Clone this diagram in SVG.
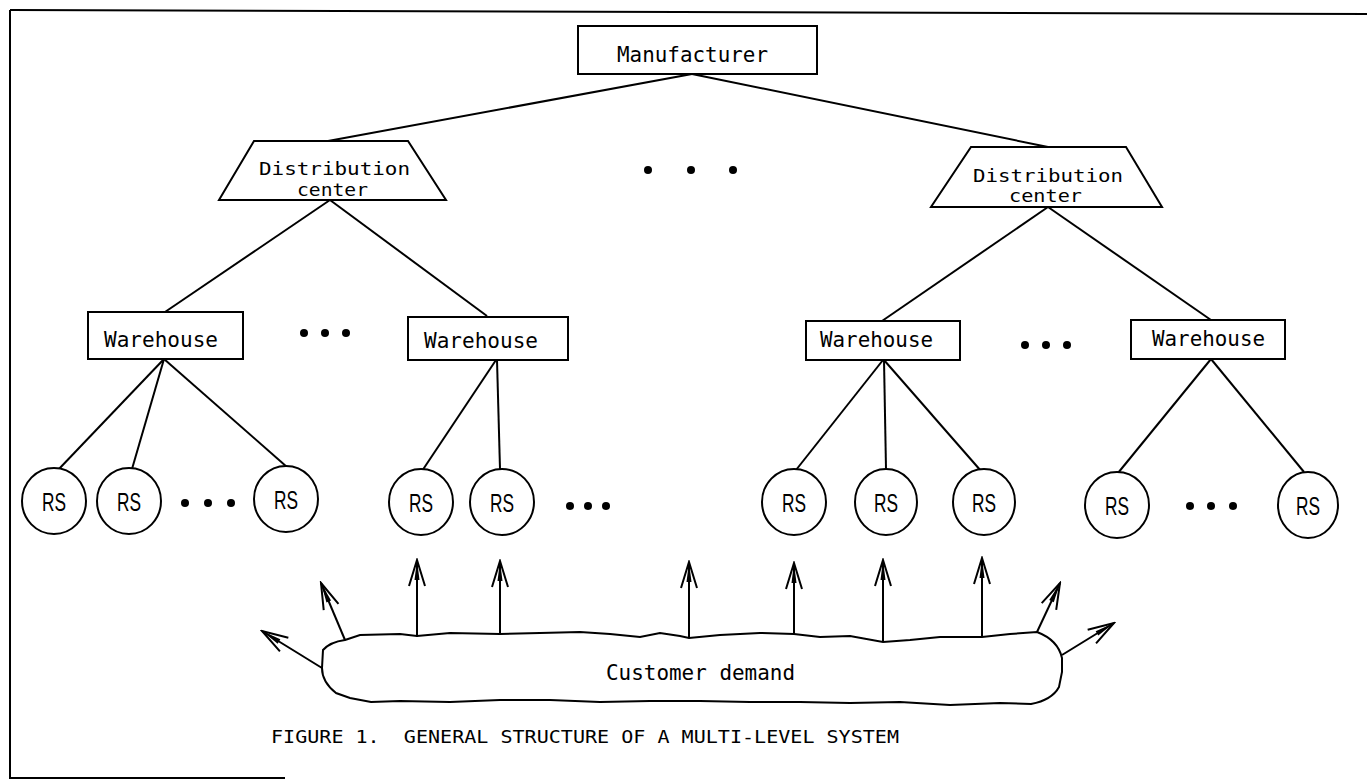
<svg xmlns="http://www.w3.org/2000/svg" width="1367" height="782" viewBox="0 0 1367 782">
<style>
.box{fill:#fff;stroke:#000;stroke-width:2}
.ln{fill:none;stroke:#000;stroke-width:2}
.t{font-family:"DejaVu Sans Mono","Liberation Mono",monospace;font-size:21px;fill:#000}
.dc{font-family:"DejaVu Sans Mono","Liberation Mono",monospace;font-size:18px;fill:#000}
.cap{font-family:"DejaVu Sans Mono","Liberation Mono",monospace;font-size:17px;fill:#000}
.rs{font-family:"Liberation Sans",Arial,sans-serif;font-size:25px;fill:#000;text-anchor:middle}
.dot{fill:#000}
.arr{fill:none;stroke:#000;stroke-width:2;marker-end:url(#ah)}
</style>
<defs>
<marker id="ah" markerWidth="30" markerHeight="20" refX="28" refY="10" orient="auto" markerUnits="userSpaceOnUse">
<path d="M2,2 L28,10 L2,18" fill="none" stroke="#000" stroke-width="2"/>
<path d="M8,7.5 L28,10 L8,12.5 Z" fill="#000"/>
</marker>
</defs>
<rect width="1367" height="782" fill="#fff"/>
<g id="frame" class="ln">
<path d="M10,10 L1367,14"/>
<path d="M10,10 L10,778 L285,778"/>
</g>
<g id="connectors" class="ln">
<path d="M692,74 L328,141"/>
<path d="M692,74 L1048,147"/>
<path d="M330,200 L165,312"/>
<path d="M330,200 L487,316"/>
<path d="M1048,207 L882,321"/>
<path d="M1048,207 L1211,320"/>
<path d="M164,359 L58,470"/>
<path d="M164,359 L132,469"/>
<path d="M164,359 L287,467"/>
<path d="M496,360 L422,471"/>
<path d="M497,360 L500,469"/>
<path d="M883,360 L796,470"/>
<path d="M884,360 L886,469"/>
<path d="M884,360 L981,471"/>
<path d="M1211,359 L1118,473"/>
<path d="M1211,359 L1304,472"/>
</g>
<g id="manufacturer">
<rect class="box" x="578" y="26" width="239" height="48"/>
<text class="t" x="617" y="62" textLength="151" lengthAdjust="spacingAndGlyphs">Manufacturer</text>
</g>
<g id="dc-left">
<path class="box" d="M254,141 L408,141 L446,200 L219,200 Z"/>
<text class="dc" x="259" y="175" textLength="151" lengthAdjust="spacingAndGlyphs">Distribution</text>
<text class="dc" x="297" y="196" textLength="71" lengthAdjust="spacingAndGlyphs">center</text>
</g>
<g id="dc-right">
<path class="box" d="M971,147 L1126,147 L1162,207 L931,207 Z"/>
<text class="dc" x="973" y="182" textLength="150" lengthAdjust="spacingAndGlyphs">Distribution</text>
<text class="dc" x="1009" y="202" textLength="73" lengthAdjust="spacingAndGlyphs">center</text>
</g>
<g id="warehouse-1">
<rect class="box" x="88" y="312" width="155" height="47"/>
<text class="t" x="104" y="347" textLength="114" lengthAdjust="spacingAndGlyphs">Warehouse</text>
</g>
<g id="warehouse-2">
<rect class="box" x="408" y="317" width="160" height="43"/>
<text class="t" x="424" y="348" textLength="114" lengthAdjust="spacingAndGlyphs">Warehouse</text>
</g>
<g id="warehouse-3">
<rect class="box" x="806" y="321" width="154" height="39"/>
<text class="t" x="820" y="347" textLength="113" lengthAdjust="spacingAndGlyphs">Warehouse</text>
</g>
<g id="warehouse-4">
<rect class="box" x="1131" y="320" width="154" height="39"/>
<text class="t" x="1152" y="346" textLength="113" lengthAdjust="spacingAndGlyphs">Warehouse</text>
</g>
<g id="rs-1"><ellipse class="box" cx="54" cy="501" rx="32" ry="33"/><text class="rs" x="54" y="511" textLength="24" lengthAdjust="spacingAndGlyphs">RS</text></g>
<g id="rs-2"><ellipse class="box" cx="129" cy="501" rx="32" ry="33"/><text class="rs" x="129" y="511" textLength="24" lengthAdjust="spacingAndGlyphs">RS</text></g>
<g id="rs-3"><ellipse class="box" cx="286" cy="499" rx="32" ry="33"/><text class="rs" x="286" y="509" textLength="24" lengthAdjust="spacingAndGlyphs">RS</text></g>
<g id="rs-4"><ellipse class="box" cx="421" cy="502" rx="32" ry="33"/><text class="rs" x="421" y="512" textLength="24" lengthAdjust="spacingAndGlyphs">RS</text></g>
<g id="rs-5"><ellipse class="box" cx="502" cy="502" rx="32" ry="33"/><text class="rs" x="502" y="512" textLength="24" lengthAdjust="spacingAndGlyphs">RS</text></g>
<g id="rs-6"><ellipse class="box" cx="794" cy="502" rx="32" ry="33"/><text class="rs" x="794" y="512" textLength="24" lengthAdjust="spacingAndGlyphs">RS</text></g>
<g id="rs-7"><ellipse class="box" cx="886" cy="502" rx="31" ry="33"/><text class="rs" x="886" y="512" textLength="24" lengthAdjust="spacingAndGlyphs">RS</text></g>
<g id="rs-8"><ellipse class="box" cx="984" cy="502" rx="31" ry="33"/><text class="rs" x="984" y="512" textLength="24" lengthAdjust="spacingAndGlyphs">RS</text></g>
<g id="rs-9"><ellipse class="box" cx="1117" cy="505" rx="32" ry="33"/><text class="rs" x="1117" y="515" textLength="24" lengthAdjust="spacingAndGlyphs">RS</text></g>
<g id="rs-10"><ellipse class="box" cx="1308" cy="505" rx="30" ry="33"/><text class="rs" x="1308" y="515" textLength="24" lengthAdjust="spacingAndGlyphs">RS</text></g>
<g id="ellipses" class="dot">
<circle cx="648" cy="170" r="4"/><circle cx="691" cy="170" r="4"/><circle cx="733" cy="170" r="4"/>
<circle cx="304" cy="333" r="4"/><circle cx="325" cy="333" r="4"/><circle cx="346" cy="333" r="4"/>
<circle cx="1025" cy="345" r="4"/><circle cx="1046" cy="345" r="4"/><circle cx="1067" cy="345" r="4"/>
<circle cx="185" cy="503" r="4"/><circle cx="208" cy="503" r="4"/><circle cx="231" cy="503" r="4"/>
<circle cx="570" cy="506" r="4"/><circle cx="588" cy="506" r="4"/><circle cx="606" cy="506" r="4"/>
<circle cx="1190" cy="506" r="4"/><circle cx="1211" cy="506" r="4"/><circle cx="1233" cy="506" r="4"/>
</g>
<g id="customer-demand">
<path class="ln" d="M345,640 L360,635 L400,634 L417,636 L450,633 L500,634 L540,633 L580,632 L610,634 L640,637 L660,633 L680,636 L689,638 L720,635 L760,633 L794,634 L820,637 L850,636 L883,642 L910,640 L940,637 L982,637 L1010,634 L1037,632 Q1058,640 1062,658 L1062,672 L1059,687 Q1052,700 1031,704 L1000,703 L950,705 L900,702 L850,703 L800,702 L750,702 L700,701 L650,701 L600,702 L550,700 L500,700 L450,702 L400,701 L371,702 L350,698 L336,693 Q322,682 322,668 L323,650 Q330,642 345,640 Z"/>
<text class="t" x="606" y="680" textLength="189" lengthAdjust="spacingAndGlyphs">Customer demand</text>
</g>
<g id="demand-arrows">
<path class="arr" d="M417,637 L417,560"/>
<path class="arr" d="M500,634 L500,561"/>
<path class="arr" d="M689,638 L689,562"/>
<path class="arr" d="M794,634 L794,563"/>
<path class="arr" d="M883,642 L883,560"/>
<path class="arr" d="M982,637 L982,558"/>
<path class="arr" d="M345,640 L321,583"/>
<path class="arr" d="M322,668 L262,631"/>
<path class="arr" d="M1037,632 L1060,583"/>
<path class="arr" d="M1062,655 L1114,623"/>
</g>
<g id="caption">
<text class="cap" x="271" y="743" textLength="628" lengthAdjust="spacingAndGlyphs" xml:space="preserve">FIGURE 1.  GENERAL STRUCTURE OF A MULTI-LEVEL SYSTEM</text>
</g>
</svg>
